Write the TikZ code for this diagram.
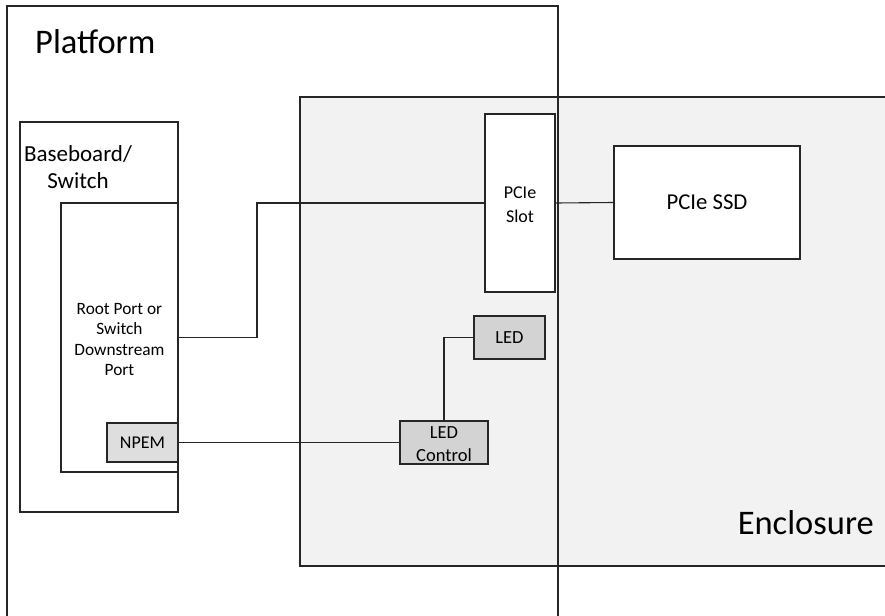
\documentclass[tikz,border=0pt]{standalone}
\usepackage{fontspec}
\setmainfont{Carlito}
\definecolor{encl}{HTML}{F2F2F2}
\definecolor{npemgray}{HTML}{DEDEDE}
\definecolor{ledgray}{HTML}{D3D3D3}
\begin{document}
\begin{tikzpicture}[x=1pt,y=-1pt,
  box/.style={draw=black!85, line width=1.1pt, rectangle, inner sep=0pt, align=center},
  wire/.style={draw=black!85, line width=1.1pt}]
\useasboundingbox (0,0) rectangle (885,615);
\clip (0,0) rectangle (885,615);
% enclosure
\node[box, fill=encl, minimum width=600pt, minimum height=469pt] (encl) at (600,331.5) {};
% platform outline
\node[box, minimum width=551pt, minimum height=634pt] (plat) at (282.5,323) {};
\node[anchor=base west, inner sep=0pt, font=\fontsize{34.5}{40}\selectfont] (platlbl) at (35,54) {Platform};
\node[anchor=base east, inner sep=0pt, font=\fontsize{34.5}{40}\selectfont] (encllbl) at (874,534) {Enclosure};
% baseboard
\node[box, fill=white, minimum width=158pt, minimum height=390pt] (base) at (99,317) {};
\node[inner sep=0pt, align=center, font=\fontsize{23}{27}\selectfont] (baselbl) at (78,167) {Baseboard/\\Switch};
% root port
\node[box, fill=white, minimum width=117pt, minimum height=269pt] (root) at (119.5,337.5) {};
\node[inner sep=0pt, align=center, font=\fontsize{17.3}{20.6}\selectfont] (rootlbl) at (119.5,339.5) {Root Port or\\Switch\\Downstream\\Port};
\node[box, fill=npemgray, minimum width=71pt, minimum height=39pt, font=\fontsize{18}{20}\selectfont] (npem) at (142.5,442.5) {NPEM};
% slot & ssd
\node[box, fill=white, minimum width=70pt, minimum height=178pt] (slot) at (520,203) {};
\node[inner sep=0pt, align=center, font=\fontsize{18}{24}\selectfont] (slotlbl) at (520,205) {PCIe\\Slot};
\node[box, fill=white, minimum width=186pt, minimum height=113pt, font=\fontsize{22.7}{24}\selectfont] (ssd) at (707,202.5) {PCIe SSD};
% LED
\node[box, fill=ledgray, minimum width=71pt, minimum height=43pt, font=\fontsize{18.5}{20}\selectfont] (led) at (509.5,337.5) {LED};
\node[box, fill=ledgray, minimum width=88pt, minimum height=43pt] (ledc) at (444,442.5) {};
\node[inner sep=0pt, align=center, font=\fontsize{18.5}{23}\selectfont] (ledclbl) at (444,444) {LED\\Control};
% connectors
\coordinate (j1) at (257,337.5);
\draw[wire] (root.east) -- (j1) |- (slot.west);
\draw[wire] (slot.east) -- (ssd.west);
\draw[wire] (led.west) -| (ledc.north);
\draw[wire] (npem.east) -- (ledc.west);
\end{tikzpicture}
\end{document}
